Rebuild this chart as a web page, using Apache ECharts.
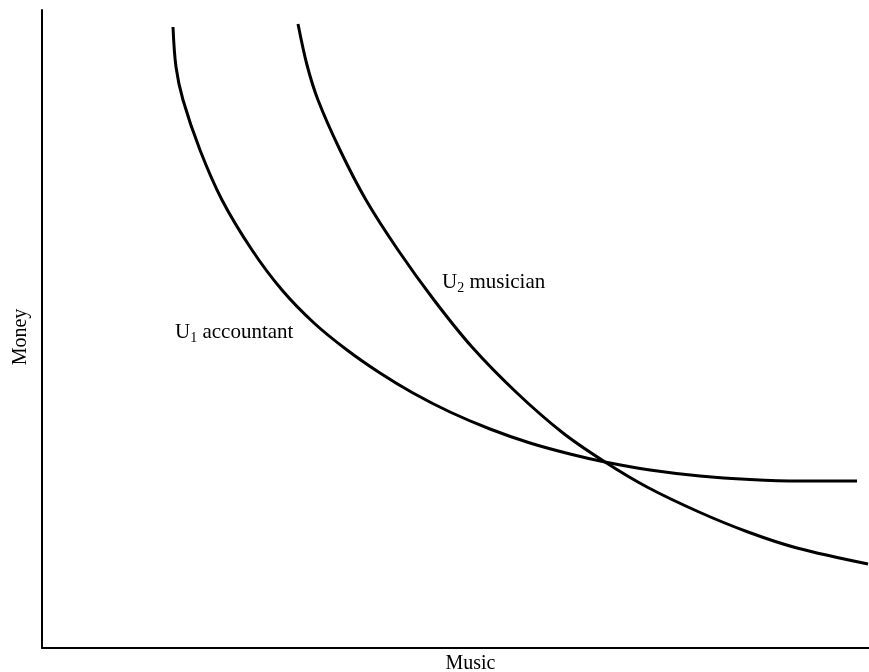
<!DOCTYPE html>
<html lang="en">
<head>
<meta charset="UTF-8">
<title>Music vs Money indifference curves</title>
<script src="https://cdn.jsdelivr.net/npm/echarts@6/dist/echarts.min.js"></script>
<style>
html, body { margin: 0; padding: 0; background: #fff; }
#chart { width: 869px; height: 672px; }
</style>
</head>
<body>
<div id="chart"></div>
<script>
// Indifference curves (arbitrary units: music, money)
const accountant = [
  [131, 621], [134, 581], [141, 548], [158, 498], [180, 448], [210, 398],
  [240, 358], [272, 325], [305, 298], [338, 275], [371, 255], [408, 236],
  [448, 219], [488, 205], [528, 194], [563, 186], [608, 178], [658, 172],
  [708, 168.5], [758, 167], [815, 167]
];
const musician = [
  [256, 624], [265, 583], [276, 548], [298, 498], [324, 448], [356, 398],
  [392, 348], [430, 301], [475, 255], [521, 215], [563, 186], [605, 161],
  [657, 136], [706, 116], [755, 100], [826, 84]
];
// where each curve's name is written
const accountantLabel = [133, 316];
const musicianLabel = [400, 366];

const serif = 'Liberation Serif';
const ink = '#000';

function richLabel(sub, word) {
  return '{u|U}{s|' + sub + '}{t| ' + word + '}';
}

const labelRich = {
  u: { fontFamily: serif, fontSize: 21, color: ink, lineHeight: 26, verticalAlign: 'middle' },
  s: { fontFamily: serif, fontSize: 14, color: ink, lineHeight: 26, verticalAlign: 'bottom' },
  t: { fontFamily: serif, fontSize: 21, color: ink, lineHeight: 26, verticalAlign: 'middle' }
};

function curveLabel(coord, sub, word) {
  return {
    symbol: 'circle',
    symbolSize: 0,
    silent: true,
    data: [{ coord: coord }],
    label: {
      show: true,
      position: 'right',
      distance: 0,
      formatter: richLabel(sub, word),
      rich: labelRich
    }
  };
}

const chart = echarts.init(document.getElementById('chart'));
chart.setOption({
  animation: false,
  backgroundColor: '#fff',
  grid: { left: 42, right: 0, top: 10, bottom: 24, outerBoundsMode: 'none' },
  xAxis: {
    type: 'value',
    min: 0,
    max: 827,
    name: 'Music',
    nameLocation: 'middle',
    nameGap: 6,
    nameTextStyle: { fontFamily: serif, fontSize: 20, color: ink, padding: [0, 0, 0, 30] },
    axisLine: { lineStyle: { color: ink, width: 2 } },
    axisTick: { show: false },
    axisLabel: { show: false },
    splitLine: { show: false }
  },
  yAxis: {
    type: 'value',
    min: 0,
    max: 638,
    name: 'Money',
    nameLocation: 'middle',
    nameGap: 11,
    nameTextStyle: { fontFamily: serif, fontSize: 20, color: ink, padding: [0, 0, 0, -16] },
    axisLine: { lineStyle: { color: ink, width: 2 } },
    axisTick: { show: false },
    axisLabel: { show: false },
    splitLine: { show: false }
  },
  series: [
    {
      name: 'U1 accountant',
      type: 'line',
      data: accountant,
      smooth: 0.33,
      showSymbol: false,
      clip: false,
      lineStyle: { color: ink, width: 3 },
      markPoint: curveLabel(accountantLabel, '1', 'accountant')
    },
    {
      name: 'U2 musician',
      type: 'line',
      data: musician,
      smooth: 0.33,
      showSymbol: false,
      clip: false,
      lineStyle: { color: ink, width: 3 },
      markPoint: curveLabel(musicianLabel, '2', 'musician')
    }
  ]
});
</script>
</body>
</html>
